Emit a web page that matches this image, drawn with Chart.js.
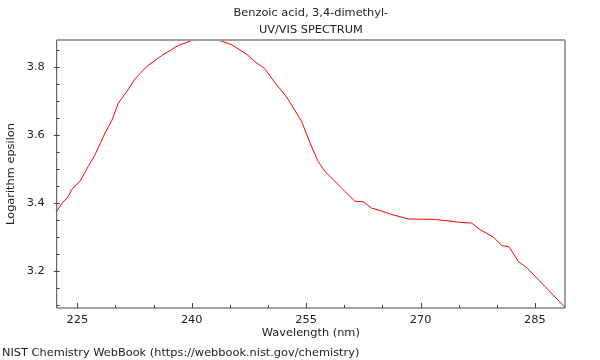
<!DOCTYPE html>
<html>
<head>
<meta charset="utf-8">
<script src="https://cdn.jsdelivr.net/npm/chart.js@4/dist/chart.umd.min.js"></script>
<style>
  html, body { margin: 0; padding: 0; background: #fff; }
  #wrap { width: 600px; height: 360px; }
</style>
</head>
<body>
<div id="wrap"><canvas id="c" width="600" height="360"></canvas></div>
<script>
// ---- data ----
const titleLines = ['Benzoic acid, 3,4-dimethyl-', 'UV/VIS SPECTRUM'];
const footerText = 'NIST Chemistry WebBook (https://webbook.nist.gov/chemistry)';
const xTitle = 'Wavelength (nm)';
const yTitle = 'Logarithm epsilon';

const wavelength = [
  222.30, 222.95, 223.82, 224.27, 225.35, 226.44, 227.32, 228.63, 229.51, 230.38,
  231.48, 232.56, 234.10, 236.06, 238.24, 240.00, 241.70, 243.00, 243.90, 245.24,
  247.21, 248.52, 249.52, 251.14, 252.45, 254.42, 255.51, 256.59, 257.47, 258.56,
  260.09, 261.41, 262.49, 263.59, 264.68, 266.43, 268.40, 271.67, 273.43, 275.17,
  276.71, 277.79, 279.54, 280.64, 281.63, 282.81, 283.92, 288.94
];
const logEpsilon = [
  3.375, 3.397, 3.418, 3.439, 3.463, 3.507, 3.541, 3.605, 3.641, 3.693,
  3.727, 3.764, 3.801, 3.833, 3.863, 3.877, 3.879, 3.879, 3.876, 3.865,
  3.837, 3.811, 3.796, 3.747, 3.711, 3.639, 3.576, 3.521, 3.492, 3.468,
  3.433, 3.404, 3.403, 3.384, 3.377, 3.364, 3.352, 3.351, 3.347, 3.342,
  3.340, 3.321, 3.299, 3.274, 3.270, 3.227, 3.209, 3.092
];

const xMajorTicks = [225, 240, 255, 270, 285];
const xMinorTicks = [230, 235, 245, 250, 260, 265, 275, 280];
const yMajorTicks = [3.2, 3.4, 3.6, 3.8];
const yMinorTicks = [3.1, 3.15, 3.25, 3.3, 3.35, 3.45, 3.5, 3.55, 3.65, 3.7, 3.75, 3.85];

const xRange = [222.30, 288.94];
const yRange = [3.090, 3.879];

// ---- chart ----
const FONT = 'DejaVu Sans';
const FS = 11.35;
const TXT = '#222';

const framePlugin = {
  id: 'frame',
  afterDatasetsDraw(chart) {
    const {ctx, chartArea: a, scales: {x, y}} = chart;
    ctx.save();
    ctx.lineWidth = 1;
    ctx.strokeStyle = '#444';
    ctx.beginPath();
    xMajorTicks.forEach(v => { const p = Math.round(x.getPixelForValue(v)) + 0.5; ctx.moveTo(p, a.bottom); ctx.lineTo(p, a.bottom - 5); });
    xMinorTicks.forEach(v => { const p = Math.round(x.getPixelForValue(v)) + 0.5; ctx.moveTo(p, a.bottom); ctx.lineTo(p, a.bottom - 3); });
    yMajorTicks.forEach(v => { const p = Math.round(y.getPixelForValue(v)) + 0.5; ctx.moveTo(a.left - 3, p); ctx.lineTo(a.left + 3, p); });
    yMinorTicks.forEach(v => { const p = Math.round(y.getPixelForValue(v)) + 0.5; ctx.moveTo(a.left, p); ctx.lineTo(a.left + 3, p); });
    ctx.stroke();
    ctx.beginPath();
    ctx.moveTo(a.left, a.top); ctx.lineTo(a.left, a.bottom); ctx.lineTo(a.right, a.bottom); ctx.lineTo(a.right, a.top);
    ctx.stroke();
    ctx.strokeStyle = '#a0a0a0';
    ctx.lineWidth = 2;
    ctx.beginPath();
    ctx.moveTo(a.left, a.top); ctx.lineTo(a.right, a.top);
    ctx.stroke();
    ctx.restore();
  }
};

new Chart(document.getElementById('c'), {
  type: 'line',
  data: {
    datasets: [{
      data: wavelength.map((w, i) => ({x: w, y: logEpsilon[i]})),
      borderColor: 'rgb(255,0,0)',
      borderWidth: 1,
      pointRadius: 0,
      tension: 0,
      fill: false
    }]
  },
  options: {
    responsive: false,
    animation: false,
    events: [],
    layout: { padding: { left: 2, right: 35, top: 0, bottom: 0 } },
    plugins: {
      legend: { display: false },
      tooltip: { enabled: false },
      title: {
        display: true,
        text: titleLines,
        fullSize: false,
        color: TXT,
        font: { family: FONT, size: FS, weight: 'normal', lineHeight: '17px' },
        padding: { top: 5, bottom: 1 }
      },
      subtitle: {
        display: true,
        text: footerText,
        position: 'bottom',
        align: 'start',
        color: TXT,
        font: { family: FONT, size: FS, weight: 'normal', lineHeight: '13px' },
        padding: { top: 3.5, bottom: 0 }
      }
    },
    scales: {
      x: {
        type: 'linear',
        min: xRange[0],
        max: xRange[1],
        afterBuildTicks: s => { s.ticks = xMajorTicks.map(v => ({value: v})); },
        afterFit: s => { s.height = 35.5; },
        grid: { display: false },
        border: { display: false },
        ticks: {
          autoSkip: false, maxRotation: 0, padding: -3, color: TXT,
          font: { family: FONT, size: FS },
          callback: v => String(v)
        },
        title: {
          display: true, text: xTitle, color: TXT,
          font: { family: FONT, size: FS, lineHeight: '13px' },
          padding: { top: 0, bottom: 4 }
        }
      },
      y: {
        type: 'linear',
        min: yRange[0],
        max: yRange[1],
        afterBuildTicks: s => { s.ticks = yMajorTicks.map(v => ({value: v})); },
        afterFit: s => { s.width = 54.7; },
        grid: { display: false },
        border: { display: false },
        ticks: {
          autoSkip: false, padding: 4, color: TXT,
          font: { family: FONT, size: FS },
          callback: v => v.toFixed(1)
        },
        title: {
          display: true, text: yTitle, color: TXT,
          font: { family: FONT, size: FS, lineHeight: '13px' },
          padding: { top: 2.5, bottom: 0 }
        }
      }
    }
  },
  plugins: [framePlugin]
});
</script>
</body>
</html>
